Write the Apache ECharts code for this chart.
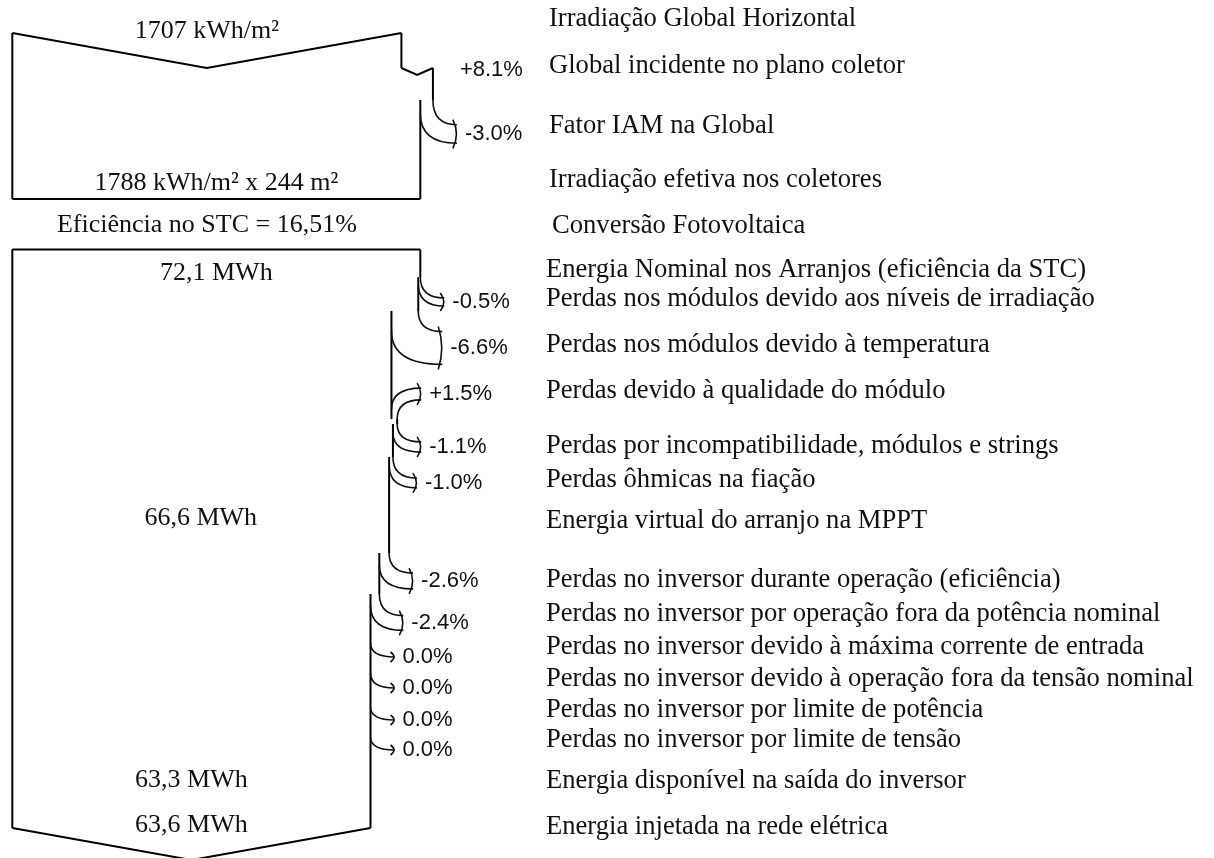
<!DOCTYPE html>
<html>
<head>
<meta charset="utf-8">
<script src="https://cdn.jsdelivr.net/npm/echarts@6/dist/echarts.min.js"></script>
<style>
html, body { margin: 0; padding: 0; background: #fff; }
#chart { width: 1214px; height: 858px; }
</style>
</head>
<body>
<div id="chart"></div>
<script>
// ---- data ----
var irrLabels = ['Irradiação Global Horizontal', 'Global incidente no plano coletor', 'Fator IAM na Global', 'Irradiação efetiva nos coletores'];
var irrPct = [null, 8.1, -3.0, null];
var convLabel = 'Conversão Fotovoltaica';
var energyLabels = [
    'Energia Nominal nos Arranjos (eficiência da STC)',
    'Perdas nos módulos devido aos níveis de irradiação',
    'Perdas nos módulos devido à temperatura',
    'Perdas devido à qualidade do módulo',
    'Perdas por incompatibilidade, módulos e strings',
    'Perdas ôhmicas na fiação',
    'Energia virtual do arranjo na MPPT',
    'Perdas no inversor durante operação (eficiência)',
    'Perdas no inversor por operação fora da potência nominal',
    'Perdas no inversor devido à máxima corrente de entrada',
    'Perdas no inversor devido à operação fora da tensão nominal',
    'Perdas no inversor por limite de potência',
    'Perdas no inversor por limite de tensão',
    'Energia disponível na saída do inversor',
    'Energia injetada na rede elétrica'
];
var energyPct = [null, -0.5, -6.6, 1.5, -1.1, -1.0, null, -2.6, -2.4, 0.0, 0.0, 0.0, 0.0, null, null];
var blockTexts = ['1707 kWh/m²', '1788 kWh/m² x 244 m²', 'Eficiência no STC = 16,51%', '72,1 MWh', '66,6 MWh', '63,3 MWh', '63,6 MWh'];
// [block, step] whose flow width each value text is centred on
var blockTextStep = [[0, 0], [0, 3], [0, 0], [1, 0], [1, 6], [1, 13], [1, 14]];

// ---- layout (vertical positions on the page) ----
var irrRowY = [19, 66, 126, 180];
var convRowY = 226;
var energyRowY = [270, 299, 345, 391, 446, 480, 521, 580, 614, 647, 679, 710, 740, 781, 827];
var irrArrowY = [null, [68, 70], [100, 134], null];          // [branch y, tip y]
var energyArrowY = [null, [277, 302], [311, 348], [419, 394], [424, 447], [457, 483], null,
    [553, 581], [594, 623], [643, 657], [673, 688], [707, 720], [737, 750], null, null];
var blockTextY = [31, 183, 225, 273, 518, 780, 825];
var blockTop = [33, 249.5];
var blockBottom = [199, 828];

var serif = '"Liberation Serif", "Times New Roman", serif';
var sans = '"Liberation Sans", Arial, sans-serif';

function widths(pcts, start) {
    var w = [start];
    for (var i = 1; i < pcts.length; i++) {
        w.push(pcts[i] == null ? w[i - 1] : w[i - 1] * (1 + pcts[i] / 100));
    }
    return w;
}
var irrGain = irrPct.reduce(function (a, p) { return p == null ? a : a * (1 + p / 100); }, 1);
var irrW = widths(irrPct, 100 / irrGain);   // effective irradiation = 100
var energyW = widths(energyPct, 100);      // nominal array energy = 100

function isNotch(b, i) {
    var pcts = b ? energyPct : irrPct, arr = b ? energyArrowY : irrArrowY;
    return pcts[i] > 0 && Math.abs(arr[i][1] - arr[i][0]) < 6;
}

function buildEdges(b) {
    var W = b ? energyW : irrW, arr = b ? energyArrowY : irrArrowY;
    var segs = [], cur = { w: W[0], y0: blockTop[b] };
    for (var i = 1; i < W.length; i++) {
        if (!arr[i] || W[i] === W[i - 1]) continue;
        var yb = arr[i][0];
        cur.y1 = yb;
        segs.push(cur);
        cur = { w: W[i], y0: yb };
    }
    cur.y1 = blockBottom[b];
    segs.push(cur);
    return segs;
}

function line(p, q, lw) {
    return { type: 'line', shape: { x1: p[0], y1: p[1], x2: q[0], y2: q[1] },
        style: { stroke: '#000', lineWidth: lw || 2 } };
}

function renderFrame(params, api) {
    var b = api.value(0);
    var W = b ? energyW : irrW;
    var top = blockTop[b], bottom = blockBottom[b];
    var wEnd = W[W.length - 1];
    var ch = [];
    var tl = api.coord([0, top]), tr = api.coord([W[0], top]);
    var bl = api.coord([0, bottom]), br = api.coord([wEnd, bottom]);
    if (b === 0) {
        ch.push({ type: 'polyline', shape: { points: [tl, [(tl[0] + tr[0]) / 2, tl[1] + 35], tr] },
            style: { stroke: '#000', lineWidth: 2, fill: null } });
        ch.push(line(bl, br));
        ch.push({ type: 'text', style: { x: 552, y: api.coord([0, convRowY])[1], text: convLabel,
            font: '26.6px ' + serif, fill: '#111', verticalAlign: 'middle' } });
    } else {
        ch.push(line(tl, tr));
        ch.push({ type: 'polyline', shape: { points: [br, [(bl[0] + br[0]) / 2, bl[1] + 32], bl] },
            style: { stroke: '#000', lineWidth: 2, fill: null } });
    }
    ch.push(line(tl, bl));
    buildEdges(b).forEach(function (s) {
        ch.push(line(api.coord([s.w, s.y0]), api.coord([s.w, s.y1])));
    });
    return { type: 'group', children: ch };
}

function renderStep(params, api) {
    var b = api.value(0), i = api.value(1);
    var labels = b ? energyLabels : irrLabels, pcts = b ? energyPct : irrPct;
    var W = b ? energyW : irrW, rowY = b ? energyRowY : irrRowY, arr = b ? energyArrowY : irrArrowY;
    var ch = [];
    ch.push({ type: 'text', style: { x: b ? 546 : 549, y: api.coord([0, rowY[i]])[1], text: labels[i],
        font: '26.6px ' + serif, fill: '#111', verticalAlign: 'middle' } });
    if (pcts[i] != null && arr[i]) {
        var p = pcts[i];
        var gain = p > 0;
        var wide = gain ? W[i] : W[i - 1], narrow = gain ? W[i - 1] : W[i];
        var pw = api.coord([wide, arr[i][0]]), pn = api.coord([narrow, arr[i][0]]);
        var yb = pw[1], yt = api.coord([0, arr[i][1]])[1];
        var xw = pw[0], xn = pn[0];
        var txt = (gain ? '+' : '') + p.toFixed(1) + '%';
        var tx;
        if (isNotch(b, i)) {
            ch.push({ type: 'polyline', shape: { points: [[xn, yb], [(xn + xw) / 2, yb + 7], [xw, yb]] },
                style: { stroke: '#000', lineWidth: 2, fill: null } });
            tx = xw + 27;
        } else {
            var dir = gain ? -1 : 1;
            var band = xw - xn;
            var hw = band > 0.5 ? band / 2 + 3 : 0;
            var off = Math.min(band * 0.6 + 6, 20);
            var xt = xw + 24;
            var ya = yt - dir * hw, yn0 = yb + dir * off, yn1 = yt + dir * hw;
            var d = 'M' + xw + ',' + yb +
                ' C' + xw + ',' + (yb + (ya - yb) * 0.7) + ' ' + (xw + (xt - xw) * 0.35) + ',' + ya + ' ' + xt + ',' + ya;
            if (band > 0.5) {
                d += ' M' + xt + ',' + yn1 +
                    ' C' + (xn + (xt - xn) * 0.35) + ',' + yn1 + ' ' + xn + ',' + (yn0 + (yn1 - yn0) * 0.7) + ' ' + xn + ',' + yn0;
            }
            ch.push({ type: 'path', shape: { pathData: d }, style: { stroke: '#111', lineWidth: 1.6, fill: null } });
            ch.push({ type: 'path', shape: { pathData: 'M' + (xt - 4) + ',' + (yt - hw - 5) +
                ' Q' + (xt + 3) + ',' + yt + ' ' + (xt - 4) + ',' + (yt + hw + 5) },
                style: { stroke: '#111', lineWidth: 1.6, fill: null } });
            tx = xt + 8;
        }
        ch.push({ type: 'text', style: { x: tx, y: yt, text: txt, font: '22px ' + sans,
            fill: '#111', verticalAlign: 'middle' } });
    }
    return { type: 'group', children: ch };
}

function renderText(params, api) {
    var k = api.value(0);
    var s = blockTextStep[k];
    var W = s[0] ? energyW : irrW;
    var p = api.coord([W[s[1]] / 2, blockTextY[k]]);
    return { type: 'text', style: { x: p[0], y: p[1], text: blockTexts[k], font: '26px ' + serif,
        fill: '#111', align: 'center', verticalAlign: 'middle' } };
}

var stepData = [];
irrLabels.forEach(function (l, i) { stepData.push([0, i]); });
energyLabels.forEach(function (l, i) { stepData.push([1, i]); });

var chart = echarts.init(document.getElementById('chart'));
chart.setOption({
    animation: false,
    backgroundColor: '#fff',
    grid: { left: 12.3, top: 0, width: 408, height: 858 },
    xAxis: { type: 'value', min: 0, max: 100, show: false },
    yAxis: { type: 'value', min: 0, max: 858, inverse: true, show: false },
    series: [
        { type: 'custom', name: 'fluxo', renderItem: renderFrame, data: [[0], [1]], silent: true },
        { type: 'custom', name: 'etapas', renderItem: renderStep, data: stepData, silent: true },
        { type: 'custom', name: 'valores', renderItem: renderText,
            data: blockTexts.map(function (t, k) { return [k]; }), silent: true }
    ]
});
</script>
</body>
</html>
